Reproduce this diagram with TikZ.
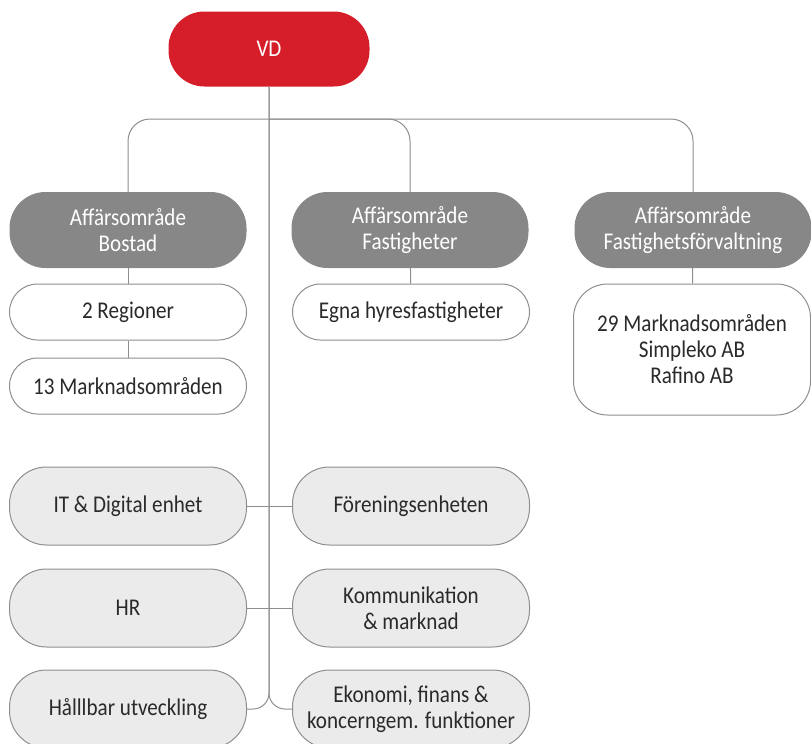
\documentclass[tikz,border=0pt]{standalone}
\usepackage{fontspec}
\setmainfont[FakeStretch=0.88]{Carlito}
\definecolor{vdred}{HTML}{D51E2A}
\definecolor{headgray}{HTML}{878787}
\definecolor{linegray}{HTML}{8E8E8E}
\definecolor{staffgray}{HTML}{EBEBEB}
\definecolor{textdark}{HTML}{2A2A2A}
\begin{document}
\begin{tikzpicture}[x=1pt,y=-1pt,
    box/.style={rectangle, minimum width=237pt, inner sep=0pt, align=center,
        font=\fontsize{24}{26}\selectfont},
    head/.style={box, fill=headgray, text=white, minimum height=76pt, rounded corners=36pt},
    unit/.style={box, draw=linegray, line width=1pt, fill=white, text=textdark,
        minimum height=56pt, rounded corners=28pt},
    staff/.style={box, draw=linegray, line width=1pt, fill=staffgray, text=textdark,
        minimum height=78pt, rounded corners=37pt},
    conn/.style={draw=linegray, line width=1pt}]
    \useasboundingbox (0,0) rectangle (811,744);
    % top
    \node [box, fill=vdred, text=white, minimum width=201pt, minimum height=75pt,
        rounded corners=36pt] (vd) at (269,49) {VD};
    \coordinate (bar) at (269,119);
    % business areas
    \node [head] (bostad) at (128,230) {Affärsområde\\Bostad};
    \node [head] (fast) at (410,230) {Affärsområde\\Fastigheter};
    \node [head] (forv) at (693,230) {Affärsområde\\Fastighetsförvaltning};
    \node [unit] (regioner) at (128,312) {2 Regioner};
    \node [unit] (omraden) at (128,386) {13 Marknadsområden};
    \node [unit] (egna) at (411,312) {Egna hyresfastigheter};
    \node [unit, minimum height=131pt, rounded corners=34pt] (marknad) at (692,349.5)
        {29 Marknadsområden\\Simpleko AB\\Rafino AB};
    % staff functions
    \node [staff] (it) at (128,506) {IT \& Digital enhet};
    \node [staff] (foren) at (411,506) {Föreningsenheten};
    \node [staff] (hr) at (128,608) {HR};
    \node [staff] (komm) at (411,608) {Kommunikation\\\& marknad};
    \node [staff] (hallbar) at (128,709) {Hålllbar utveckling};
    \node [staff] (ekonomi) at (411,709) {Ekonomi, finans \&\\koncerngem. funktioner};
    % connectors
    \draw [conn, rounded corners=22pt] (bostad.north) |- (forv.north |- bar) -- (forv.north);
    \draw [conn, rounded corners=22pt] (bar) -| (fast.north);
    \draw [conn] (bostad) -- (regioner);
    \draw [conn] (regioner) -- (omraden);
    \draw [conn] (fast) -- (egna);
    \draw [conn] (forv) -- (marknad);
    \draw [conn] (it) -- (foren);
    \draw [conn] (hr) -- (komm);
    \draw [conn, rounded corners=16pt] (vd.south) |- (hallbar.east);
    \draw [conn, rounded corners=16pt] (vd.south) |- (ekonomi.west);
\end{tikzpicture}
\end{document}
